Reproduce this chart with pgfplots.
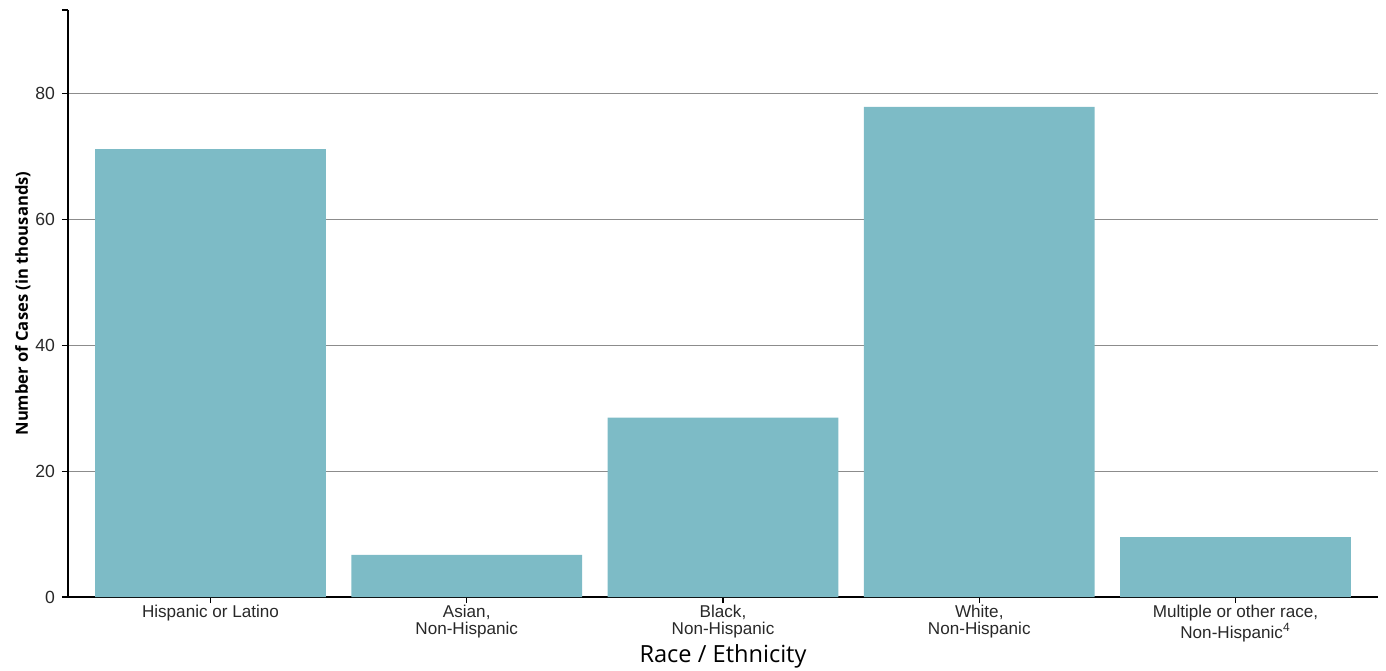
\documentclass[border=0pt]{standalone}
\usepackage{pgfplots}
\pgfplotsset{compat=1.18}
\usepackage{fontspec}
\setmainfont{Liberation Sans}
\newfontfamily\opensans{Open Sans}
\definecolor{barcol}{RGB}{125,187,198}
\definecolor{txt}{RGB}{40,40,40}
\begin{document}
\begin{tikzpicture}
\path[use as bounding box] (-34pt,-36.5pt) rectangle (659pt,298.5pt);
\begin{axis}[
  at={(0,0)}, anchor=south west,
  scale only axis,
  width=655pt, height=293.5pt,
  xmin=-0.556, xmax=4.556,
  ymin=0, ymax=93.3,
  axis x line*=bottom,
  axis y line*=left,
  axis line style={black, line width=0.6pt},
  xtick={0,1,2,3,4},
  xticklabels={Hispanic or Latino, {Asian,\\Non-Hispanic}, {Black,\\Non-Hispanic}, {White,\\Non-Hispanic}, {Multiple or other race,\\Non-Hispanic\textsuperscript{4}}},
  xticklabel style={align=center, font=\fontsize{8.55}{8.6}\selectfont, text=txt, yshift=2.5pt},
  ytick={0,20,40,60,80},
  extra y ticks={93.3},
  extra y tick labels={},
  extra y tick style={grid=none},
  yticklabel style={font=\fontsize{8.8}{10}\selectfont, text=txt},
  /pgf/number format/assume math mode=true,
  tick align=outside,
  major tick length=3pt,
  tick style={black, line width=0.6pt},
  ymajorgrids,
  grid style={gray!90, line width=0.55pt},
  xlabel={Race / Ethnicity},
  xlabel style={at={(axis description cs:0.5,0)}, anchor=center, yshift=-29.5pt, font=\opensans\fontsize{11.8}{13}\selectfont, text=black},
  ylabel={Number of Cases (in thousands)},
  ylabel style={at={(axis description cs:-0.0345,0.5)}, anchor=center, font=\opensans\bfseries\fontsize{8.3}{9}\selectfont, text=black},
  ybar, bar width=0.9,
]
\addplot[fill=barcol, draw=none] coordinates {
  (0,71.2) (1,6.7) (2,28.5) (3,77.9) (4,9.5)
};
\end{axis}
\end{tikzpicture}
\end{document}
